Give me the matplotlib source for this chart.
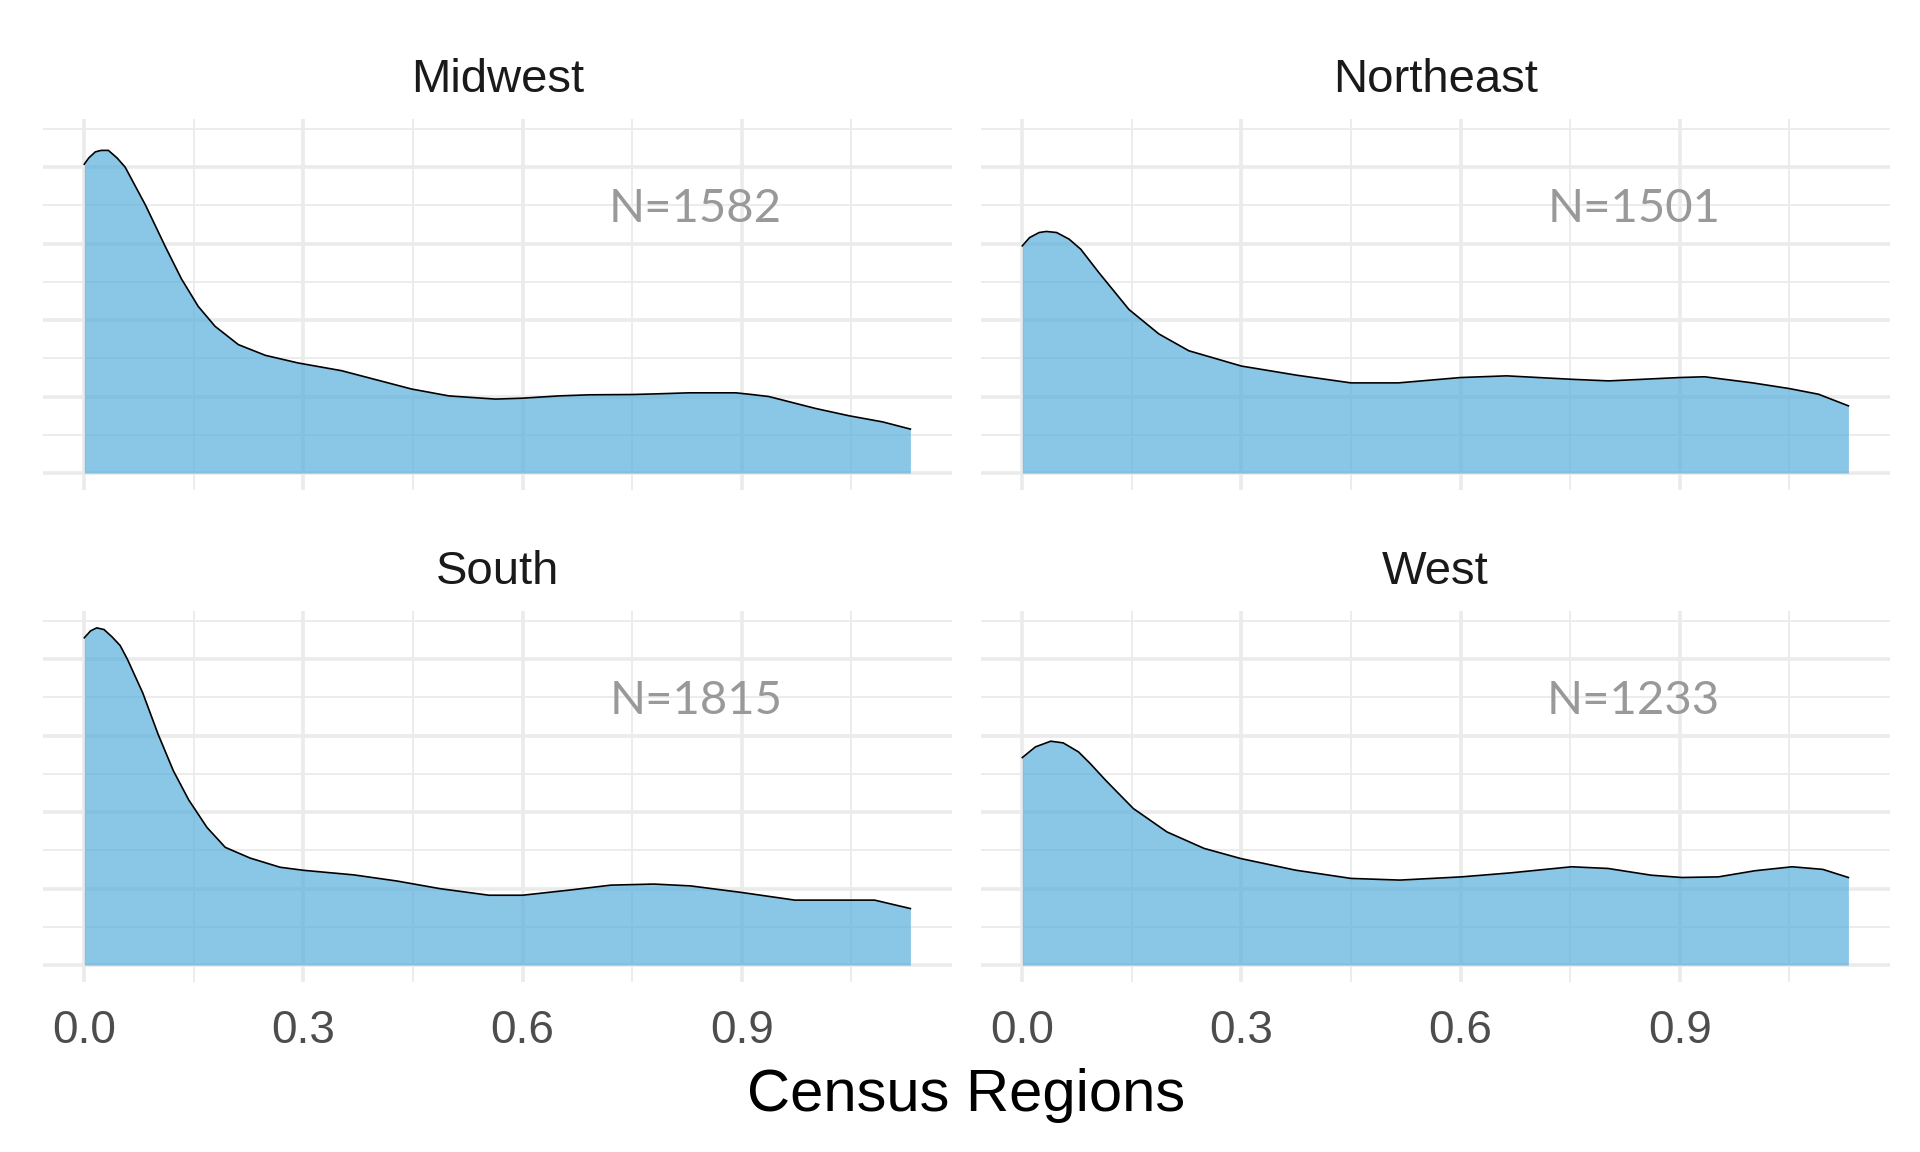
import matplotlib
matplotlib.use("Agg")
from matplotlib import pyplot as plt
import numpy as np

# density curves (x = share, y = density)
regions = ["Midwest", "Northeast", "South", "West"]
counts = [1582, 1501, 1815, 1233]

midwest_x = [0.0, 0.006, 0.015, 0.023, 0.033, 0.045, 0.056, 0.084, 0.111, 0.133, 0.156, 0.179,
             0.211, 0.248, 0.293, 0.352, 0.448, 0.499, 0.563, 0.60, 0.65, 0.691, 0.75, 0.782,
             0.828, 0.892, 0.91, 0.937, 0.969, 1.001, 1.047, 1.093, 1.131]
midwest_y = [2.02, 2.06, 2.10, 2.11, 2.11, 2.06, 2.00, 1.75, 1.48, 1.27, 1.09, 0.96,
             0.84, 0.77, 0.72, 0.67, 0.55, 0.505, 0.484, 0.49, 0.505, 0.512, 0.514, 0.518,
             0.525, 0.525, 0.516, 0.501, 0.462, 0.423, 0.375, 0.335, 0.288]

northeast_x = [0.0, 0.010, 0.023, 0.033, 0.047, 0.064, 0.080, 0.105, 0.146, 0.187, 0.228, 0.30,
               0.376, 0.45, 0.515, 0.60, 0.663, 0.75, 0.803, 0.90, 0.934, 1.0, 1.05, 1.09, 1.131]
northeast_y = [1.486, 1.54, 1.573, 1.58, 1.573, 1.53, 1.464, 1.31, 1.07, 0.91, 0.80, 0.70,
               0.64, 0.59, 0.59, 0.625, 0.636, 0.614, 0.603, 0.625, 0.63, 0.59, 0.553, 0.516, 0.44]

south_x = [0.0, 0.0085, 0.017, 0.027, 0.038, 0.049, 0.059, 0.080, 0.101, 0.122, 0.143, 0.168,
           0.193, 0.227, 0.268, 0.30, 0.369, 0.428, 0.487, 0.554, 0.60, 0.663, 0.721, 0.78,
           0.83, 0.90, 0.973, 1.049, 1.082, 1.131]
south_y = [2.14, 2.185, 2.205, 2.194, 2.146, 2.09, 2.00, 1.78, 1.51, 1.27, 1.08, 0.90,
           0.77, 0.70, 0.64, 0.62, 0.59, 0.55, 0.50, 0.457, 0.457, 0.49, 0.523, 0.53,
           0.518, 0.475, 0.425, 0.425, 0.425, 0.37]

west_x = [0.0, 0.018, 0.039, 0.056, 0.077, 0.093, 0.114, 0.152, 0.198, 0.249, 0.299, 0.374,
          0.45, 0.517, 0.601, 0.668, 0.752, 0.802, 0.861, 0.903, 0.953, 1.003, 1.054, 1.096, 1.131]
west_y = [1.357, 1.427, 1.464, 1.453, 1.394, 1.318, 1.209, 1.024, 0.871, 0.763, 0.697, 0.621,
          0.567, 0.556, 0.577, 0.603, 0.643, 0.632, 0.588, 0.573, 0.577, 0.617, 0.643, 0.626, 0.573]

curves_x = [midwest_x, northeast_x, south_x, west_x]
curves_y = [midwest_y, northeast_y, south_y, west_y]

x_major = [0.0, 0.3, 0.6, 0.9]
x_minor = [0.15, 0.45, 0.75, 1.05]
x_labels = ["0.0", "0.3", "0.6", "0.9"]
y_major = [0.0, 0.5, 1.0, 1.5, 2.0]
y_minor = [0.25, 0.75, 1.25, 1.75, 2.25]

label_pos = (0.837, 1.645)

plt.rcParams['font.family'] = ['Liberation Sans', 'DejaVu Sans']

fig = plt.figure(figsize=(19.2, 11.52), dpi=100)
W, H = 1920.0, 1152.0

# panel boxes in pixels: left, top
lefts = [43, 981, 43, 981]
tops = [119, 119, 611, 611]
pw, ph = 908.7, 371.0

xmax = max(max(c) for c in curves_x)
ymax = max(max(c) for c in curves_y)
xpad = 0.05 * xmax
ypad = 0.05 * ymax

grid_col = "#ebebeb"

for i in range(4):
    ax = fig.add_axes([lefts[i] / W, 1 - (tops[i] + ph) / H, pw / W, ph / H])
    for s in ax.spines.values():
        s.set_visible(False)
    ax.set_xlim(-xpad, xmax + xpad)
    ax.set_ylim(-ypad, ymax + ypad)
    ax.set_xticks(x_major)
    ax.set_xticks(x_minor, minor=True)
    ax.set_yticks(y_major)
    ax.set_yticks(y_minor, minor=True)
    ax.grid(True, which='major', color=grid_col, lw=2.6)
    ax.grid(True, which='minor', color=grid_col, lw=1.3)
    ax.set_axisbelow(True)
    ax.tick_params(which='both', length=0)
    ax.set_yticklabels([])
    if i >= 2:
        ax.set_xticklabels(x_labels, fontsize=33, color="#4d4d4d")
        ax.tick_params(axis='x', pad=19.5)
    else:
        ax.set_xticklabels([])

    x = np.array(curves_x[i])
    y = np.array(curves_y[i])
    ax.fill_between(x, 0, y, color="#58AFDB", alpha=0.7, lw=0)
    ax.plot(x, y, color="black", lw=1.2, solid_joinstyle='round')

    ax.text(label_pos[0], label_pos[1], "N=%d" % counts[i], fontsize=34, color="#999999",
            family=['Lato', 'DejaVu Sans'], ha='center', va='baseline')

    # strip title
    cx = (lefts[i] + pw / 2) / W
    fig.text(cx, 1 - (tops[i] - 26.7) / H, regions[i], fontsize=34, color="#1a1a1a",
             ha='center', va='baseline')

fig.text(966.5 / W, 1 - 1111 / H, "Census Regions", fontsize=43, color="black",
         ha='center', va='baseline')

plt.savefig("out.png", dpi=100, facecolor="white")
